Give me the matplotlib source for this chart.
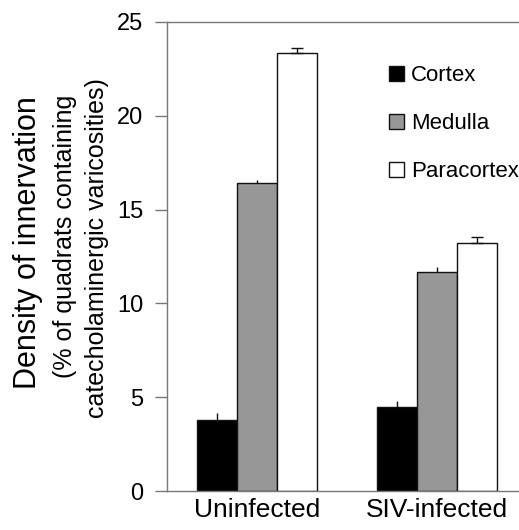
import matplotlib
matplotlib.use("Agg")
import matplotlib.pyplot as plt
import numpy as np

plt.rcParams["font.family"] = ["Liberation Sans", "DejaVu Sans"]

groups = ["Uninfected", "SIV-infected"]
regions = ["Cortex", "Medulla", "Paracortex"]
means = {
    "Cortex": [3.78, 4.46],
    "Medulla": [16.42, 11.69],
    "Paracortex": [23.33, 13.24],
}
errors = {
    "Cortex": [0.37, 0.34],
    "Medulla": [0.18, 0.23],
    "Paracortex": [0.30, 0.30],
}
colors = {"Cortex": "#000000", "Medulla": "#979797", "Paracortex": "#ffffff"}

W, H = 519, 530
fig = plt.figure(figsize=(W / 100, H / 100), dpi=100)
ax = fig.add_axes([167 / W, 1 - 491 / H, 1 - 167 / W, (491 - 22) / H])

group_x = np.array([1.0, 5.5])
handles = []
for i, r in enumerate(regions):
    x = group_x + (i - 1)
    b = ax.bar(x, means[r], width=1.0, color=colors[r], edgecolor="#111111",
               linewidth=1.0, label=r, zorder=2)
    handles.append(b)
    ax.errorbar(x, means[r], yerr=[np.zeros(2), errors[r]], fmt="none",
                ecolor="#111111", elinewidth=1.0, capsize=4 if r == "Paracortex" else 0,
                capthick=1.0, zorder=3)

ax.set_xlim(-1.25, 7.55)
ax.set_ylim(0, 25)
ax.set_yticks([0, 5, 10, 15, 20, 25])
ax.set_xticks(group_x)
ax.set_xticklabels(groups, fontsize=19)
ax.tick_params(axis="x", length=0, pad=5)
ax.tick_params(axis="y", direction="out", length=9, width=1, color="#777777",
               labelsize=17, pad=8)
for s in ["left", "bottom", "top"]:
    ax.spines[s].set_color("#777777")
    ax.spines[s].set_linewidth(1.0)
ax.spines["right"].set_visible(False)

ax.legend(handles=handles, labels=regions, frameon=False, fontsize=16,
          handlelength=0.68, handleheight=0.68, handletextpad=0.3,
          labelspacing=1.22, loc="upper left", borderpad=0, borderaxespad=0,
          bbox_to_anchor=((389 - 167) / (W - 167), 1 - (65 - 22) / (491 - 22)))

fig.text(28 / W, 1 - 243 / H, "Density of innervation", rotation=90,
         ha="center", va="center", fontsize=22)
fig.text(65 / W, 1 - 236 / H, "(% of quadrats containing", rotation=90,
         ha="center", va="center", fontsize=18)
fig.text(97 / W, 1 - 248 / H, "catecholaminergic varicosities)", rotation=90,
         ha="center", va="center", fontsize=18)

fig.savefig("out.png", dpi=100)
